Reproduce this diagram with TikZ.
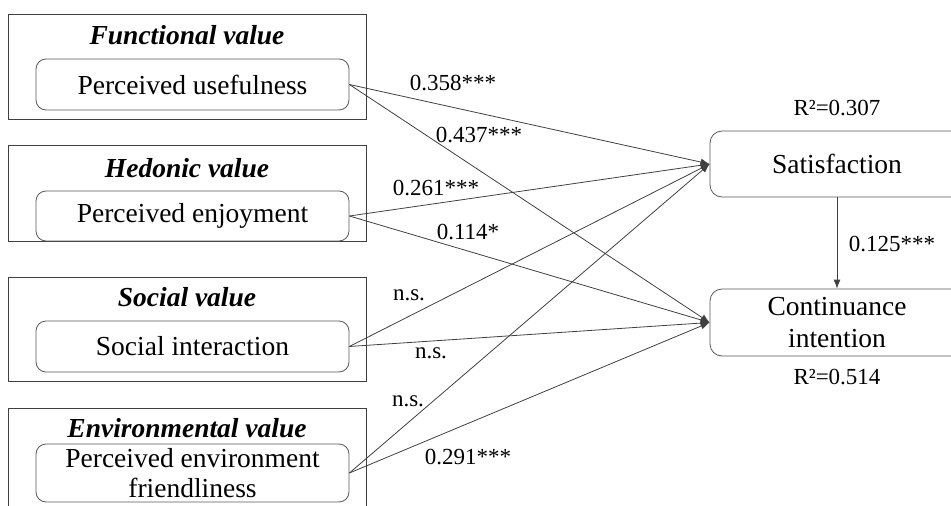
\documentclass[tikz,border=0pt]{standalone}
\usepackage{fontspec}
\setmainfont{Liberation Serif}
\usetikzlibrary{arrows.meta}
\begin{document}
\begin{tikzpicture}[x=1pt,y=-1pt,
  outerbox/.style={draw=black!75, line width=0.9pt, minimum width=358pt, inner sep=0pt},
  innerbox/.style={draw=black!65, rounded corners=10pt, line width=0.8pt, minimum width=313pt,
     align=center, inner sep=0pt, font=\fontsize{27.5}{30}\selectfont},
  rightbox/.style={draw=black!65, rounded corners=12pt, line width=0.8pt, minimum width=254pt,
     align=center, inner sep=0pt, font=\fontsize{27.5}{32}\selectfont},
  titletext/.style={font=\fontsize{27.5}{30}\selectfont\bfseries\itshape, inner sep=0pt},
  coef/.style={font=\fontsize{23}{26}\selectfont, inner sep=0pt},
  arr/.style={draw=black!75, line width=0.8pt, -{Latex[length=9pt,width=7pt]}}
]
\clip (0,0) rectangle (951,506);
% outer group boxes
\node[outerbox, minimum height=105pt] (g1) at (187,66.5) {};
\node[outerbox, minimum height=96pt] (g2) at (187,193) {};
\node[outerbox, minimum height=104pt] (g3) at (187,329) {};
\node[outerbox, minimum height=120pt] (g4) at (187,468) {};
% titles
\node[titletext] (t1) at (187,35) {Functional value};
\node[titletext] (t2) at (187,168) {Hedonic value};
\node[titletext] (t3) at (187,297) {Social value};
\node[titletext] (t4) at (187,428) {Environmental value};
% inner constructs
\node[innerbox, minimum height=51pt] (pu) at (192.5,84.5) {Perceived usefulness};
\node[innerbox, minimum height=50pt] (pe) at (192.5,216) {Perceived enjoyment};
\node[innerbox, minimum height=51pt] (si) at (192.5,346.5) {Social interaction};
\node[innerbox, minimum height=58pt] (pef) at (192.5,473) {Perceived environment\\friendliness};
% outcomes
\node[rightbox, minimum height=66pt] (sat) at (837,164) {Satisfaction};
\node[rightbox, minimum height=67pt] (ci) at (837,322.5) {Continuance\\intention};
% connectors
\draw[arr] (pu.east) -- (sat.west);
\draw[arr] (pu.east) -- (ci.west);
\draw[arr] (pe.east) -- (sat.west);
\draw[arr] (pe.east) -- (ci.west);
\draw[arr] (si.east) -- (sat.west);
\draw[arr] (si.east) -- (ci.west);
\draw[arr] (pef.east) -- (sat.west);
\draw[arr] (pef.east) -- (ci.west);
\draw[arr] (sat.south) -- (ci.north);
% coefficients
\node[coef] (c1) at (453,83) {0.358***};
\node[coef] (c2) at (479,135) {0.437***};
\node[coef] (c3) at (436,188) {0.261***};
\node[coef] (c4) at (468,232) {0.114*};
\node[coef] (c5) at (409,295) {n.s.};
\node[coef] (c6) at (431,353) {n.s.};
\node[coef] (c7) at (408,401) {n.s.};
\node[coef] (c8) at (468,457) {0.291***};
\node[coef] (c9) at (892,244) {0.125***};
\node[coef] (r1) at (837,108) {R²=0.307};
\node[coef] (r2) at (837,377) {R²=0.514};
\end{tikzpicture}
\end{document}
